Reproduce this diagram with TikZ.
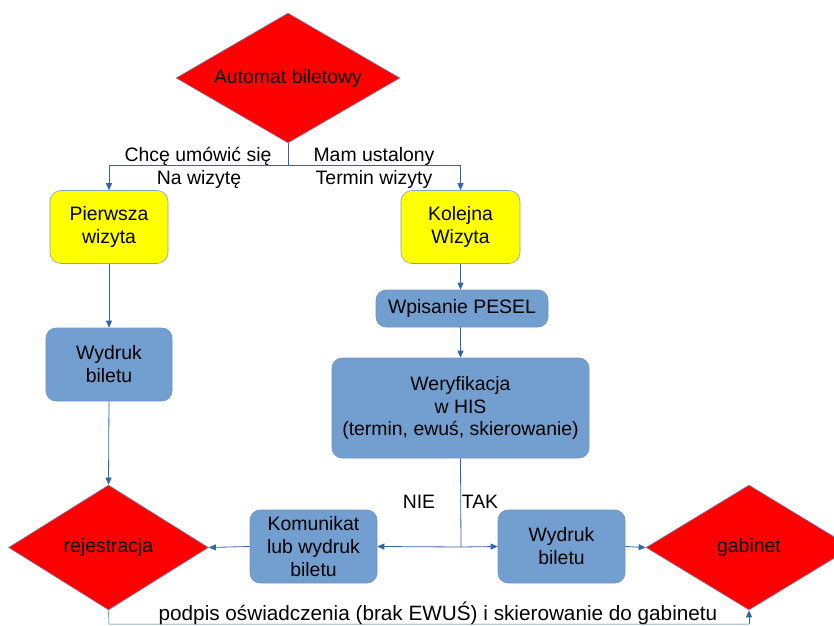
\documentclass[tikz,border=0pt]{standalone}
\usepackage{fontspec}
\setmainfont{Liberation Sans}
\usetikzlibrary{shapes.geometric,arrows.meta}
\definecolor{lineblue}{HTML}{3465A4}
\definecolor{boxblue}{HTML}{729FCF}
\definecolor{dred}{HTML}{FF0000}
\definecolor{dyellow}{HTML}{FFFF00}
\begin{document}
\begin{tikzpicture}[x=1bp,y=-1bp,
  every node/.style={font=\fontsize{19.5}{23}\selectfont, align=center, inner sep=0pt},
  dia/.style={diamond, draw=lineblue!70, line width=0.6bp, fill=dred},
  ybox/.style={rectangle, rounded corners=11bp, draw=lineblue!60, line width=0.6bp, fill=dyellow},
  bbox/.style={rectangle, rounded corners=10bp, draw=lineblue!70, line width=0.6bp, fill=boxblue},
  conn/.style={draw=lineblue, line width=0.8bp},
  arr/.style={conn, -{Triangle[length=7bp,width=6bp]}},
  lbl/.style={font=\fontsize{19.5}{23}\selectfont}
]
\useasboundingbox (0,0) rectangle (834,626);
\clip (0,0) rectangle (834,626);
% nodes
\node[dia, shape aspect=1.72, minimum width=224bp, minimum height=130bp] (auto) at (288,78) {Automat biletowy};
\node[ybox, minimum width=118bp, minimum height=73bp] (pierw) at (109,227) {Pierwsza\\wizyta};
\node[ybox, minimum width=119bp, minimum height=73bp] (kol) at (460.5,227) {Kolejna\\Wizyta};
\node[bbox, minimum width=172bp, minimum height=37bp] (pesel) at (462,308.5) {Wpisanie PESEL};
\node[bbox, minimum width=257bp, minimum height=100bp] (wer) at (460.5,408) {Weryfikacja\\w HIS\\(termin, ewuś, skierowanie)};
\node[bbox, minimum width=126bp, minimum height=73bp] (wyd1) at (109,364.5) {Wydruk\\biletu};
\node[dia, shape aspect=1.6, minimum width=200bp, minimum height=125bp] (rej) at (108.5,547.5) {rejestracja};
\node[bbox, minimum width=127bp, minimum height=73bp] (kom) at (313.5,546.5) {Komunikat\\lub wydruk\\biletu};
\node[bbox, minimum width=127bp, minimum height=73bp] (wyd2) at (561.5,546.5) {Wydruk\\biletu};
\node[dia, shape aspect=1.65, minimum width=206bp, minimum height=125bp] (gab) at (749,547.5) {gabinet};
% labels
\node[lbl] (l1) at (198,156) {Chcę umówić się};
\node[lbl] (l2) at (199,179) {Na wizytę};
\node[lbl] (l3) at (374,156) {Mam ustalony};
\node[lbl] (l4) at (374,179) {Termin wizyty};
\node[lbl] (nie) at (419,502) {NIE};
\node[lbl] (tak) at (480,502) {TAK};
\node[lbl, font=\fontsize{20.8}{24}\selectfont] (pod) at (438,613) {podpis oświadczenia (brak EWUŚ) i skierowanie do gabinetu};
% coordinates
\coordinate (split) at (288,165);
\coordinate (junc) at (461,547);
\coordinate (b1) at (109,624);
\coordinate (b2) at (749,624);
% connectors
\draw[conn] (auto.south) -- (split);
\draw[arr] (split) -| (pierw.north);
\draw[arr] (split) -| (kol.north);
\draw[arr] (kol.south) -- (pesel.north -| kol.south);
\draw[arr] (pesel.south -| wer.north) -- (wer.north);
\draw[arr] (pierw.south) -- (wyd1.north);
\draw[arr] (wyd1.south) -- (rej.north);
\draw[conn] (wer.south) -- (junc);
\draw[arr] (junc) -- (kom.east);
\draw[arr] (junc) -- (wyd2.west);
\draw[arr] (kom.west) -- (rej.east);
\draw[arr] (wyd2.east) -- (gab.west);
\draw[conn, line width=0.5bp] (rej.south) -- (b1) -- (b2);
\draw[arr] (b2) -- (gab.south);
\end{tikzpicture}
\end{document}
